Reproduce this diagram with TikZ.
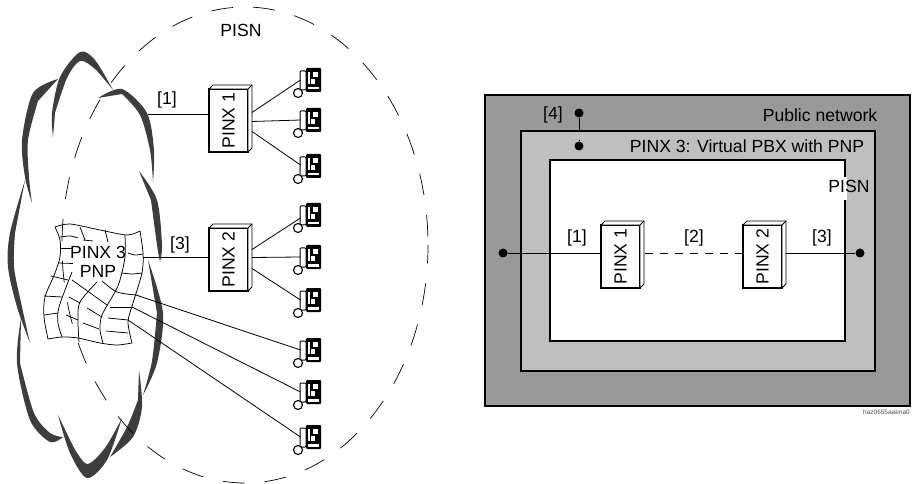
\documentclass[tikz,border=0pt]{standalone}
\usepackage{fontspec}
\setmainfont{Liberation Sans}
\usepackage{tikz}
\usetikzlibrary{shapes,arrows,positioning,calc}

\newcommand{\labelfont}{\fontsize{17.6}{20}\selectfont}

\begin{document}
\begin{tikzpicture}[
    x=1pt, y=-1pt,
    every node/.style={font=\labelfont},
    pinx/.style={rectangle, draw, fill=white, line width=1.3pt, minimum width=39pt, minimum height=63pt, inner sep=0pt, outer sep=0pt},
    phoneset/.style={rectangle, minimum width=21pt, minimum height=25pt, inner sep=0pt, outer sep=0pt},
    frame/.style={rectangle, draw, line width=1.4pt, inner sep=0pt, outer sep=0pt},
    cloudline/.style={fill=black!76},
    meshline/.style={line width=0.75pt},
    line/.style={draw, line width=0.8pt},
    dot/.style={circle, fill=black, minimum size=9pt, inner sep=0pt},
    pics/handset/.style={code={
        \fill[black, rounded corners=1pt] (-5,-12) rectangle (10,12);
        \fill[white] (-3,-8) rectangle (-1,4);
        \fill[white] (2,-8) rectangle (7,-3);
        \fill[white] (0,-1) rectangle (4,4);
        \fill[white] (-3,7) rectangle (8,9.5);
        \draw[line width=1pt, fill=white, rounded corners=1pt] (-11,-9) rectangle (-5,10);
        \draw[line width=1.1pt] (-13,13) circle (4.5);
    }}
]

\useasboundingbox (0,0) rectangle (914,484);

% Cloud
\fill[cloudline] plot[smooth] coordinates {(53,137) (52,113) (60,77) (80,52) (95,60) (113,90)} -- plot[smooth] coordinates {(113,90) (95,69) (80,61) (67,78) (55,113)} -- cycle;
\fill[cloudline] plot[smooth] coordinates {(58,79) (33,93) (22,140) (25,177) (32,203)} -- plot[smooth] coordinates {(32,203) (29,177) (28,140) (38,101)} -- cycle;
\fill[cloudline] plot[smooth] coordinates {(98,98) (122,89) (147,113) (154,150) (153,182)} -- plot[smooth] coordinates {(153,182) (150,150) (140,115) (122,94)} -- cycle;
\fill[cloudline] plot[smooth] coordinates {(139,171) (157,200) (162,245) (160,262)} -- plot[smooth] coordinates {(160,262) (157,245) (151,200)} -- cycle;
\fill[cloudline] plot[smooth] coordinates {(148,260) (163,313) (157,363) (143,395)} -- plot[smooth] coordinates {(143,395) (152,361) (157,313)} -- cycle;
\fill[cloudline] plot[smooth] coordinates {(25,180) (10,233) (8,267) (17,307) (30,343)} -- plot[smooth] coordinates {(30,343) (22,307) (14,267) (15,233)} -- cycle;
\fill[cloudline] plot[smooth] coordinates {(21,318) (17,363) (30,420) (50,442) (63,437)} -- plot[smooth] coordinates {(63,437) (50,433) (34,413) (20,363)} -- cycle;
\fill[cloudline] plot[smooth] coordinates {(58,415) (70,453) (87,478) (107,460) (122,418)} -- plot[smooth] coordinates {(122,418) (105,448) (87,464) (73,446)} -- cycle;
\fill[cloudline] plot[smooth] coordinates {(139,370) (142,407) (133,437) (110,457)} -- plot[smooth] coordinates {(110,457) (127,427) (138,400)} -- cycle;

% PISN boundary
\node[ellipse, draw, dash pattern=on 22pt off 20pt, dash phase=34pt, line width=0.7pt, minimum width=366pt, minimum height=476pt, inner sep=0pt] (pisnarea) at (245,245) {};
\node at (241,30) (pisnlabel) {PISN};

% Mesh of the PNP
\draw[meshline] plot[smooth] coordinates {(55,227) (70,224) (100,230) (127,235) (140,231)};
\draw[meshline] plot[smooth] coordinates {(140,231) (143,253) (142,273) (133,303) (128,322) (132,343)};
\draw[meshline] plot[smooth] coordinates {(132,343) (117,345) (100,343) (78,338) (62,337) (48,339)};
\draw[meshline] plot[smooth] coordinates {(48,339) (44,317) (45,297) (55,273) (60,257) (60,240) (55,227)};
\draw[meshline] plot[smooth] coordinates {(72,272) (59,307) (58,323) (62,337)};
\draw[meshline] plot[smooth] coordinates {(97,282) (80,302) (78,320) (79,342)};
\draw[meshline] plot[smooth] coordinates {(125,235) (125,257) (120,280) (115,292) (102,315) (100,330) (103,343)};
\draw[meshline] (80,227) -- (85,240);
\draw[meshline] (105,230) -- (108,242);
\draw[meshline] plot[smooth] coordinates {(60,237) (70,236) (78,238)};
\draw[meshline] (83,240) -- (93,241);
\draw[meshline] (60,248) -- (72,248);
\draw[meshline] plot[smooth] coordinates {(128,253) (135,255) (143,254)};
\draw[meshline] plot[smooth] coordinates {(122,273) (132,274) (142,273)};
\draw[meshline] (58,263) -- (73,263.5);
\draw[meshline] (51,276) -- (68,280);
\draw[meshline] (44,296) -- (62,297);
\draw[meshline] (44,315) -- (58,313);
\draw[meshline] (69,297) -- (80,303);
\draw[meshline] (66,315) -- (78,320);
\draw[meshline] (72,280) -- (107,305);
\draw[meshline] (87,308) -- (102,317);
\draw[meshline] (83,323) -- (99,329);
\draw[meshline] plot[smooth] coordinates {(102,281) (117,292) (136,295)};
\draw[meshline] (110,307) -- (132,307);
\draw[meshline] (108,318) -- (128,320);
\draw[meshline] (106,331) -- (128,333);
\coordinate (meshright) at (143,257);
\coordinate (cloudright) at (148,114);
\coordinate (mesha) at (136,295);
\coordinate (meshb) at (132,307);
\coordinate (meshc) at (128,320);
\node (pinxthree) at (98,252) {PINX 3};
\node[below=0pt of pinxthree] (pnp) {PNP};

% Left side: exchanges
\node[pinx] (pinxa) at (228.5,120.5) {\rotatebox{90}{PINX 1}};
\node[pinx, below=76pt of pinxa] (pinxb) {\rotatebox{90}{PINX 2}};

% Phones
\foreach \name/\ypos in {phonea/80, phoneb/120, phonec/166, phoned/215, phonee/257, phonef/300, phoneg/350, phoneh/392, phonei/437} {
    \node[phoneset] (\name) at (311,\ypos) {};
    \pic at (\name) {handset};
}

% Right side: nested networks
\node[frame, fill=black!40, minimum width=425pt, minimum height=311pt] (public) at (697.5,250.5) {};
\node[frame, fill=black!25, minimum width=354pt, minimum height=240pt] (virtual) at (698,251) {};
\node[frame, fill=white, minimum width=295pt, minimum height=181pt] (inner) at (697.5,250.5) {};
\fill[white] ($(inner.north east)+(-2,17)$) rectangle ($(inner.north east)+(2,40)$);
\node (publiclabel) at (820,115) {Public network};
\node (virtuallabel) at (747,146) {PINX 3: Virtual PBX with PNP};
\node (pisnright) at (849,186) {PISN};

\node[pinx] (pinxc) at (620.5,256.5) {\rotatebox{90}{PINX 1}};
\node[pinx, right=103pt of pinxc] (pinxd) {\rotatebox{90}{PINX 2}};

\node[dot] (dotleft) at (503,253) {};
\node[dot] (dotright) at (860,253) {};
\node[dot] (dottop) at (579,113) {};
\node[dot] (dotlow) at (579,146) {};

% Depth of the exchange boxes
\foreach \name in {pinxa, pinxb, pinxc, pinxd} {
    \draw[line width=0.9pt, fill=white] (\name.north west) -- ++(4,-4) -- ++(39,0) -- ++(0,63) -- (\name.south east) -- (\name.north east) -- cycle;
    \draw[line width=0.9pt] (\name.north east) -- ++(4,-4);
}

% Connections
\path [line] (cloudright) -- (cloudright -| pinxa.west);
\path [line] (meshright) -- (meshright -| pinxb.west);
\path [line] ($(pinxa.east)+(4,-8)$) -- (phonea.west);
\path [line] ($(pinxa.east)+(4,1)$) -- (phoneb.west);
\path [line] ($(pinxa.east)+(4,11)$) -- ($(phonec.west)+(0,-1)$);
\path [line] ($(pinxb.east)+(4,-10)$) -- ($(phoned.west)+(0,3)$);
\path [line] ($(pinxb.east)+(4,-2)$) -- (phonee.west);
\path [line] ($(pinxb.east)+(4,9)$) -- (phonef.west);
\path [line] (mesha) -- (phoneg.west);
\path [line] (meshb) -- (phoneh.west);
\path [line] (meshc) -- (phonei.west);
\path [line] (dotleft) -- (dotleft -| pinxc.west);
\path [line] (pinxd.east |- dotright) ++(4,0) -- (dotright);
\draw[line width=0.8pt, dash pattern=on 8pt off 7pt] ($(pinxc.east |- dotleft)+(5,0)$) -- (pinxd.west |- dotleft);
\draw[line width=0.8pt, dash pattern=on 12pt off 10pt] (dottop) -- (dotlow);

% Labels on the links
\node (labela) at (167,100) {[1]};
\node (labelb) at (180,245) {[3]};
\node (labelc) at (577,238) {[1]};
\node (labeld) at (694,238) {[2]};
\node (labele) at (822,238) {[3]};
\node[left=8pt of dottop, yshift=-2pt] (labelf) {[4]};
\node[font=\fontsize{6.5}{8}\selectfont, text=black!70, anchor=east, inner sep=0pt] (stamp) at (910,412) {haz0655aaena0};

\end{tikzpicture}
\end{document}
